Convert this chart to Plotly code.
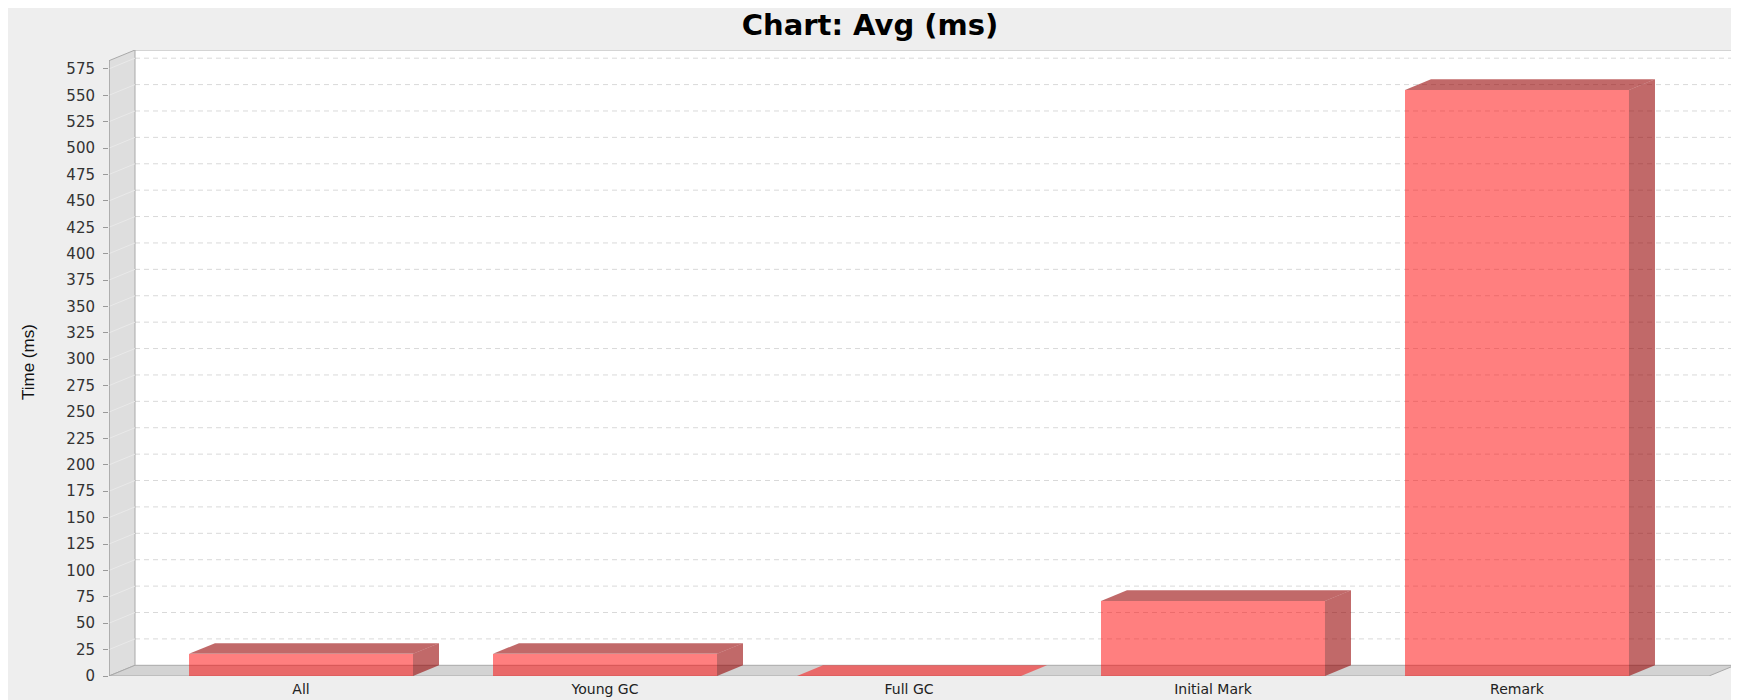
import plotly.graph_objects as go

# ---- data ----
categories = ["All", "Young GC", "Full GC", "Initial Mark", "Remark"]
avg_ms = [21, 21, 0, 71, 555]
y_tick_values = list(range(0, 576, 25))
chart_title = "Chart: Avg (ms)"
y_title = "Time (ms)"

# ---- layout geometry (pixels, figure coordinates; page body adds 8px) ----
W, H = 1739, 700
ML, MR, MT, MB = 101, 12, 42, 32
plot_w = W - ML - MR
plot_h = H - MT - MB
DX_PX, DY_PX = 26, 10.7          # 3D depth offset

n = len(categories)
bar_w = 0.7368                    # category width (units of category spacing)
edge = bar_w / 2 + 0.2632         # lower/upper axis margin
xl = -edge
front_right = (n - 1) + edge
px_per_x = (plot_w - DX_PX) / (front_right - xl)
dx = DX_PX / px_per_x
xr = front_right + dx

y_front_top = max(avg_ms) * 1.05
ymax = y_front_top / (1 - DY_PX / plot_h)
dy = DY_PX * ymax / plot_h

WALL_LINE = "#A9A9A9"
GRID = "#D9D9D9"

fig = go.Figure()
shapes = []

def pshape(pts, fill, line_color=None, line_width=0):
    path = "M " + " L ".join(f"{x},{y}" for x, y in pts) + " Z"
    shapes.append(dict(type="path", path=path, xref="x", yref="y",
                       fillcolor=fill, layer="below",
                       line=dict(color=line_color or "rgba(0,0,0,0)",
                                 width=line_width)))

def lshape(x0, y0, x1, y1, color, width=1, dash="solid"):
    shapes.append(dict(type="line", xref="x", yref="y",
                       x0=x0, y0=y0, x1=x1, y1=y1, layer="below",
                       line=dict(color=color, width=width, dash=dash)))

# back wall
pshape([(xl + dx, dy), (xr, dy), (xr, ymax), (xl + dx, ymax)], "#FFFFFF")
# back-wall gridlines
for v in y_tick_values[1:]:
    lshape(xl + dx, v + dy, xr, v + dy, GRID, 1, "5px,4px")
# left wall
pshape([(xl, 0), (xl + dx, dy), (xl + dx, ymax), (xl, y_front_top)],
       "#DEDEDE", WALL_LINE, 1)
for v in y_tick_values[1:]:
    lshape(xl, v, xl + dx, v + dy, "#E9E9E9", 1)
# floor
pshape([(xl, 0), (xr - dx, 0), (xr, dy), (xl + dx, dy)], "#D3D3D3", WALL_LINE, 1)
# back wall top edge and front axis line
lshape(xl + dx, ymax, xr, ymax, WALL_LINE, 1)
lshape(xl, 0, xl, y_front_top, "#9A9A9A", 1)

# bars: front faces
FRONT = "rgba(255,0,0,0.5)"
DARK = "rgba(150,0,0,0.59)"
xs_idx = list(range(n))
fig.add_trace(go.Bar(
    x=xs_idx, y=avg_ms, width=bar_w,
    marker=dict(color=FRONT, line=dict(width=0)),
    hoverinfo="skip", showlegend=False))

def poly(pts, fill):
    xs = [p[0] for p in pts] + [pts[0][0]]
    ys = [p[1] for p in pts] + [pts[0][1]]
    fig.add_trace(go.Scatter(
        x=xs, y=ys, mode="lines", fill="toself", fillcolor=fill,
        line=dict(color="rgba(0,0,0,0)", width=0),
        hoverinfo="skip", showlegend=False))

for i, v in enumerate(avg_ms):
    x0 = i - bar_w / 2
    x1 = i + bar_w / 2
    top = [(x0, v), (x1, v), (x1 + dx, v + dy), (x0 + dx, v + dy)]
    if v > 0:
        poly([(x1, 0), (x1 + dx, dy), (x1 + dx, v + dy), (x1, v)], DARK)
        poly(top, DARK)
    else:
        poly(top, FRONT)

def pfx(px):
    return (px - ML) / plot_w

def pfy(py):
    return (H - MB - py) / plot_h

# white strip right of the chart background
shapes.append(dict(type="rect", xref="paper", yref="paper",
                   x0=pfx(1727), x1=pfx(W + 5), y0=pfy(H + 5), y1=pfy(-5),
                   fillcolor="#FFFFFF", line=dict(width=0), layer="below"))

fig.add_annotation(text=y_title, xref="paper", yref="paper",
                   x=pfx(20), y=pfy(354), textangle=-90,
                   xanchor="center", yanchor="middle",
                   showarrow=False,
                   font=dict(family="Liberation Sans", size=17, color="#111111"))

fig.update_layout(
    width=W, height=H,
    margin=dict(l=ML, r=MR, t=MT, b=MB, pad=0),
    paper_bgcolor="#EEEEEE",
    plot_bgcolor="#EEEEEE",
    shapes=shapes,
    title=dict(text=chart_title, x=862 / W, xanchor="center",
               y=1 - 16.5 / H, yanchor="middle", yref="container",
               font=dict(family="DejaVu Sans", size=29, color="#000000",
                         weight="bold")),
    bargap=0,
    xaxis=dict(range=[xl, xr], tickvals=xs_idx, ticktext=categories,
               showgrid=False, zeroline=False, showline=False, ticks="",
               ticklabelstandoff=3,
               tickfont=dict(family="DejaVu Sans", size=14, color="#222222"),
               fixedrange=True),
    yaxis=dict(range=[0, ymax], tickvals=y_tick_values,
               ticktext=[str(v) for v in y_tick_values],
               showgrid=False, zeroline=False, showline=False,
               ticks="outside", ticklen=5, tickcolor="#9A9A9A",
               ticklabelstandoff=5,
               tickfont=dict(family="DejaVu Sans", size=15, color="#333333"),
               fixedrange=True),
)

fig.write_html("out.html")
